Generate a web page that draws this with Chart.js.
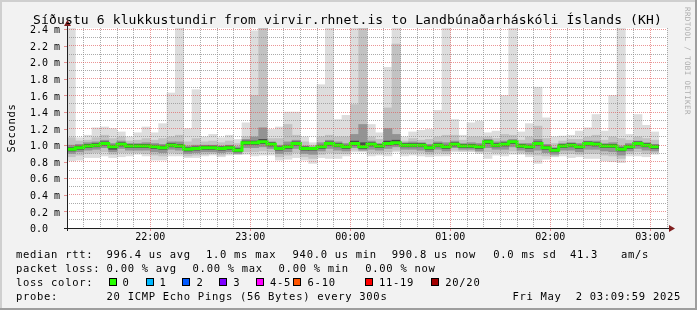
<!DOCTYPE html>
<html><head><meta charset="utf-8">
<script src="https://cdn.jsdelivr.net/npm/chart.js@4.4.1/dist/chart.umd.min.js"></script>
<style>html,body{margin:0;padding:0;background:#f2f2f2;}canvas{display:block;}</style>
</head><body>
<canvas id="c" width="697" height="310"></canvas>
<script>
// ---- data ----
const slotStarts = ['21:10','21:15','21:20','21:25','21:30','21:35','21:40','21:45','21:50','21:55',
 '22:00','22:05','22:10','22:15','22:20','22:25','22:30','22:35','22:40','22:45','22:50','22:55',
 '23:00','23:05','23:10','23:15','23:20','23:25','23:30','23:35','23:40','23:45','23:50','23:55',
 '00:00','00:05','00:10','00:15','00:20','00:25','00:30','00:35','00:40','00:45','00:50','00:55',
 '01:00','01:05','01:10','01:15','01:20','01:25','01:30','01:35','01:40','01:45','01:50','01:55',
 '02:00','02:05','02:10','02:15','02:20','02:25','02:30','02:35','02:40','02:45','02:50','02:55',
 '03:00'];
// values in ms (2.6 = above the top of the graph)
const rttMax = [2.6,1.09,1.12,1.21,1.22,1.20,1.16,1.10,1.15,1.22,1.15,1.26,
 1.63,2.6,1.20,1.67,1.10,1.13,1.09,1.12,1.07,1.27,2.38,2.6,
 1.19,1.22,1.40,1.40,1.10,1.03,1.73,2.6,1.31,1.36,2.6,2.6,
 1.25,1.15,1.94,2.6,1.10,1.16,1.18,1.19,1.42,2.6,1.31,1.12,
 1.27,1.29,1.15,1.17,1.60,2.6,1.16,1.26,1.70,1.33,1.10,1.11,
 1.12,1.17,1.21,1.37,1.17,1.60,2.6,1.13,1.37,1.24,1.16];
const rttP90 = [1.09,1.05,1.06,1.09,1.12,1.08,1.10,1.05,1.06,1.08,1.06,1.08,
 1.10,1.12,1.04,1.08,1.04,1.05,1.03,1.05,1.02,1.10,1.60,2.6,
 1.08,1.08,1.25,1.12,1.04,1.00,1.10,1.12,1.10,1.10,1.49,2.6,
 1.10,1.07,1.45,2.22,1.05,1.08,1.06,1.07,1.10,1.12,1.12,1.06,
 1.10,1.10,1.10,1.08,1.13,1.12,1.06,1.10,1.23,1.08,1.02,1.05,
 1.07,1.07,1.10,1.12,1.06,1.10,1.08,1.06,1.10,1.08,1.06];
const rttP75 = [1.00,1.01,1.03,1.04,1.06,1.02,1.05,1.02,1.02,1.03,1.02,1.01,
 1.04,1.04,0.99,1.00,1.00,1.00,0.99,1.00,0.98,1.07,1.10,1.21,
 1.04,1.00,1.04,1.06,0.99,0.98,1.03,1.06,1.04,1.02,1.13,1.25,
 1.05,1.02,1.20,1.13,1.03,1.04,1.03,1.01,1.04,1.03,1.05,1.02,
 1.03,1.02,1.07,1.04,1.05,1.07,1.02,1.02,1.07,1.01,0.97,1.02,
 1.03,1.02,1.05,1.05,1.02,1.03,0.99,1.02,1.05,1.03,1.01];
const rttP60 = [0.97,0.99,1.01,1.02,1.04,1.00,1.03,1.01,1.01,1.01,1.00,0.99,
 1.02,1.01,0.97,0.98,0.99,0.99,0.98,0.99,0.96,1.05,1.05,1.07,
 1.03,0.98,1.00,1.04,0.98,0.97,1.00,1.04,1.02,1.00,1.05,1.03,
 1.03,1.01,1.05,1.06,1.02,1.02,1.02,0.99,1.02,1.00,1.03,1.01,
 1.01,1.00,1.06,1.02,1.03,1.05,1.01,1.00,1.04,0.99,0.96,1.01,
 1.02,1.00,1.04,1.03,1.01,1.01,0.97,1.00,1.04,1.02,1.00];
const rttMedian = [0.95,0.97,0.99,1.00,1.02,0.98,1.01,0.99,0.99,0.99,0.98,0.97,
 1.00,0.99,0.95,0.96,0.97,0.97,0.96,0.97,0.94,1.03,1.03,1.04,
 1.01,0.96,0.98,1.02,0.96,0.96,0.98,1.02,1.00,0.98,1.02,0.98,
 1.01,0.99,1.02,1.03,1.00,1.00,1.00,0.97,1.00,0.98,1.01,0.99,
 0.99,0.98,1.04,1.00,1.01,1.04,0.99,0.98,1.02,0.97,0.94,0.99,
 1.00,0.98,1.02,1.01,0.99,0.99,0.95,0.98,1.02,1.00,0.98];
const rttP40 = [0.93,0.95,0.97,0.98,1.00,0.95,0.99,0.97,0.97,0.97,0.96,0.95,
 0.98,0.97,0.93,0.94,0.95,0.95,0.94,0.95,0.92,1.01,1.01,1.02,
 0.99,0.94,0.96,1.00,0.94,0.94,0.96,1.00,0.98,0.96,1.00,0.96,
 0.99,0.97,1.00,1.01,0.98,0.98,0.98,0.95,0.98,0.96,0.99,0.97,
 0.97,0.96,1.02,0.98,0.99,1.02,0.97,0.96,1.00,0.95,0.92,0.97,
 0.98,0.96,1.00,0.99,0.97,0.97,0.93,0.96,1.00,0.98,0.96];
const rttP25 = [0.90,0.92,0.94,0.95,0.97,0.92,0.96,0.94,0.94,0.94,0.92,0.91,
 0.95,0.94,0.90,0.91,0.92,0.92,0.91,0.92,0.90,0.97,0.97,0.98,
 0.96,0.90,0.92,0.96,0.90,0.89,0.93,0.96,0.94,0.93,0.97,0.94,
 0.95,0.94,0.96,0.98,0.95,0.95,0.94,0.92,0.95,0.93,0.97,0.95,
 0.95,0.93,0.97,0.95,0.95,0.98,0.94,0.92,0.94,0.91,0.89,0.94,
 0.94,0.92,0.95,0.95,0.93,0.92,0.88,0.93,0.96,0.94,0.93];
const rttP10 = [0.86,0.88,0.90,0.91,0.92,0.89,0.91,0.91,0.91,0.90,0.88,0.87,
 0.91,0.90,0.87,0.88,0.89,0.90,0.88,0.90,0.89,0.92,0.92,0.93,
 0.92,0.86,0.88,0.91,0.86,0.84,0.89,0.91,0.90,0.90,0.94,0.93,
 0.91,0.91,0.92,0.94,0.91,0.91,0.91,0.89,0.91,0.90,0.94,0.93,
 0.93,0.92,0.92,0.91,0.91,0.93,0.91,0.89,0.88,0.87,0.87,0.90,
 0.90,0.89,0.90,0.90,0.88,0.87,0.84,0.90,0.92,0.90,0.91];
const rttMin = [0.81,0.82,0.85,0.85,0.87,0.85,0.86,0.87,0.89,0.87,0.82,0.82,
 0.87,0.87,0.85,0.85,0.87,0.88,0.86,0.88,0.89,0.89,0.87,0.88,
 0.88,0.82,0.83,0.85,0.82,0.78,0.85,0.84,0.84,0.87,0.92,0.92,
 0.87,0.88,0.87,0.92,0.87,0.88,0.87,0.86,0.87,0.87,0.92,0.92,
 0.92,0.90,0.84,0.88,0.87,0.89,0.89,0.86,0.78,0.83,0.86,0.87,
 0.85,0.86,0.84,0.84,0.81,0.80,0.79,0.87,0.87,0.86,0.89];

const titleText = 'Síðustu 6 klukkustundir from virvir.rhnet.is to Landbúnaðarháskóli Íslands (KH)';
const yAxisTitle = 'Seconds';
const watermark = 'RRDTOOL / TOBI OETIKER';
const medianRttStats = ['996.4 us avg','1.0 ms max','940.0 us min','990.8 us now','0.0 ms sd','41.3','am/s'];
const packetLossStats = ['0.00 % avg','0.00 % max','0.00 % min','0.00 % now'];
const lossColorLabels = ['0','1','2','3','4-5','6-10','11-19','20/20'];
const lossColors = ['#26ff00','#00b8ff','#0059ff','#7e00ff','#ff00ff','#ff5500','#ff0000','#a10000'];
const probeText = '20 ICMP Echo Pings (56 Bytes) every 300s';
const stampText = 'Fri May  2 03:09:59 2025';

// ---- build ----
const SLOT = 5;
function toMin(s){const p=s.split(':').map(Number);return (p[0]<12?p[0]+24:p[0])*60+p[1];}
const slotX = slotStarts.map(toMin);
function band(lo,hi){return slotX.map((x,i)=>({x:x+SLOT/2,y:[lo[i],hi[i]]}));}
const medianPts = slotX.map((x,i)=>({x:x,y:rttMedian[i]}));
medianPts.push({x:slotX[slotX.length-1]+SLOT,y:rttMedian[rttMedian.length-1]});

const MONO = '"DejaVu Sans Mono"';
const MAJOR = 'rgba(222,79,79,0.6)';
const MINOR = 'rgba(143,143,143,0.75)';

function drawMono(ctx,s,x,y,adv){for(let i=0;i<s.length;i++){ctx.fillText(s[i],x+i*adv,y);}}

const deco = {
  id:'deco',
  beforeDraw(chart){
    const c=chart.ctx,a=chart.chartArea,W=chart.width,H=chart.height;
    c.save();
    c.fillStyle='#f2f2f2';c.fillRect(0,0,W,H);
    c.fillStyle='#ffffff';c.fillRect(a.left,a.top,a.right-a.left,a.bottom-a.top);
    c.fillStyle='#cfcfcf';c.fillRect(0,0,W,2);c.fillRect(0,0,2,H);
    c.fillStyle='#9e9e9e';c.fillRect(0,H-2,W,2);c.fillRect(W-2,0,2,H);
    c.restore();
  },
  afterDraw(chart){
    const c=chart.ctx,a=chart.chartArea;
    const xs=chart.scales.x, ys=chart.scales.y;
    c.save();
    c.strokeStyle=MAJOR;c.lineWidth=1;
    xs.ticks.forEach(t=>{if(t.value%60===0){const px=Math.round(xs.getPixelForValue(t.value))+0.5;c.beginPath();c.moveTo(px,a.bottom);c.lineTo(px,a.bottom+3);c.stroke();}});
    ys.ticks.forEach(t=>{if(Math.round(t.value*10)%2===0){const py=Math.round(ys.getPixelForValue(t.value))+0.5;c.beginPath();c.moveTo(a.left-3,py);c.lineTo(a.left,py);c.stroke();}});
    c.strokeStyle='#1f1f1f';
    const ax=Math.round(a.left)+0.5, ay=Math.round(a.bottom)+0.5;
    c.beginPath();c.moveTo(ax,a.bottom+3);c.lineTo(ax,a.top-3);c.stroke();
    c.beginPath();c.moveTo(a.left-3,ay);c.lineTo(a.right+3,ay);c.stroke();
    c.fillStyle='#801f1f';
    c.beginPath();c.moveTo(ax-3.5,a.top-2);c.lineTo(ax+3.5,a.top-2);c.lineTo(ax,a.top-8);c.closePath();c.fill();
    c.beginPath();c.moveTo(a.right+2,ay-3.5);c.lineTo(a.right+2,ay+3.5);c.lineTo(a.right+8,ay);c.closePath();c.fill();
    c.fillStyle='#000';c.textBaseline='alphabetic';c.textAlign='left';
    c.font='13px '+MONO;
    const tadv=7.96;
    drawMono(c,titleText,347.5-titleText.length*tadv/2,23.5,tadv);
    const adv=7.02;
    c.font='10.5px '+MONO;
    const rows=[258,272,285.8,299.6];
    drawMono(c,'median rtt:',16,rows[0],adv);
    [106.6,206,292.6,391.8,493.3,570,621].forEach((x,i)=>drawMono(c,medianRttStats[i],x,rows[0],adv));
    drawMono(c,'packet loss:',16,rows[1],adv);
    [106.6,192.6,278.6,365.3].forEach((x,i)=>drawMono(c,packetLossStats[i],x,rows[1],adv));
    drawMono(c,'loss color:',16,rows[2],adv);
    const bx=[109,146,182,219,256,293,365,431], tx=[122.6,159.5,196.6,233.3,270,307.6,379,445.3];
    lossColorLabels.forEach((l,i)=>{
      c.fillStyle='#000';c.fillRect(bx[i],278,8,8);
      c.fillStyle=lossColors[i];c.fillRect(bx[i]+1,279,6,6);
      c.fillStyle='#000';drawMono(c,l,tx[i],rows[2],adv);
    });
    drawMono(c,'probe:',16,rows[3],adv);
    drawMono(c,probeText,106.6,rows[3],adv);
    drawMono(c,stampText,512.5,rows[3],adv);
    c.save();c.translate(15,(a.top+a.bottom)/2);c.rotate(-Math.PI/2);
    drawMono(c,yAxisTitle,-yAxisTitle.length*adv/2,0,adv);c.restore();
    c.save();c.translate(685,7);c.rotate(Math.PI/2);c.fillStyle='rgba(0,0,0,0.3)';c.font='7.5px '+MONO;
    drawMono(c,watermark,0,0,4.9);c.restore();
    c.restore();
  }
};

const barBase = {type:'bar',grouped:false,barPercentage:1,categoryPercentage:1,borderWidth:0};
new Chart(document.getElementById('c'),{
  type:'bar',
  data:{datasets:[
    {type:'line',label:'median',data:medianPts,stepped:'before',borderColor:'#26ff00',borderWidth:3,pointRadius:0,fill:false,order:0},
    Object.assign({label:'p40-p60',data:band(rttP40,rttP60),backgroundColor:'#4a4a4a',order:1},barBase),
    Object.assign({label:'p25-p75',data:band(rttP25,rttP75),backgroundColor:'#939393',order:2},barBase),
    Object.assign({label:'p10-p90',data:band(rttP10,rttP90),backgroundColor:'#c2c2c2',order:3},barBase),
    Object.assign({label:'min-max',data:band(rttMin,rttMax),backgroundColor:'#dddddd',order:4},barBase)
  ]},
  options:{
    responsive:false,animation:false,devicePixelRatio:1,
    layout:{padding:{left:0,right:30,top:28,bottom:0}},
    plugins:{legend:{display:false},tooltip:{enabled:false},title:{display:false}},
    scales:{
      x:{type:'linear',offset:false,min:toMin('21:10'),max:toMin('03:10'),
        afterFit(s){s.height=82;},
        border:{display:false,dash:[1,1]},
        grid:{z:1,offset:false,drawTicks:false,color:c=>(c.tick&&c.tick.value%60===0)?MAJOR:MINOR},
        ticks:{stepSize:10,autoSkip:false,maxRotation:0,minRotation:0,padding:3,color:'#000',
          font:{family:'DejaVu Sans Mono',size:10},
          callback:v=>v%60===0?String(Math.floor(v/60)%24).padStart(2,'0')+':00':''}},
      y:{type:'linear',min:0,max:2.415,
        afterFit(s){s.width=67;},
        border:{display:false,dash:[1,1]},
        grid:{z:1,drawTicks:false,color:c=>(c.tick&&Math.round(c.tick.value*10)%2===0)?MAJOR:MINOR},
        ticks:{stepSize:0.1,includeBounds:false,autoSkip:false,padding:7,labelOffset:1.5,color:'#000',
          font:{family:'DejaVu Sans Mono',size:10},
          callback:v=>{const k=Math.round(v*10);if(k%2)return '';return k===0?'0.0  ':(k/10).toFixed(1)+' m';}}}
    }
  },
  plugins:[deco]
});
</script>
</body></html>
